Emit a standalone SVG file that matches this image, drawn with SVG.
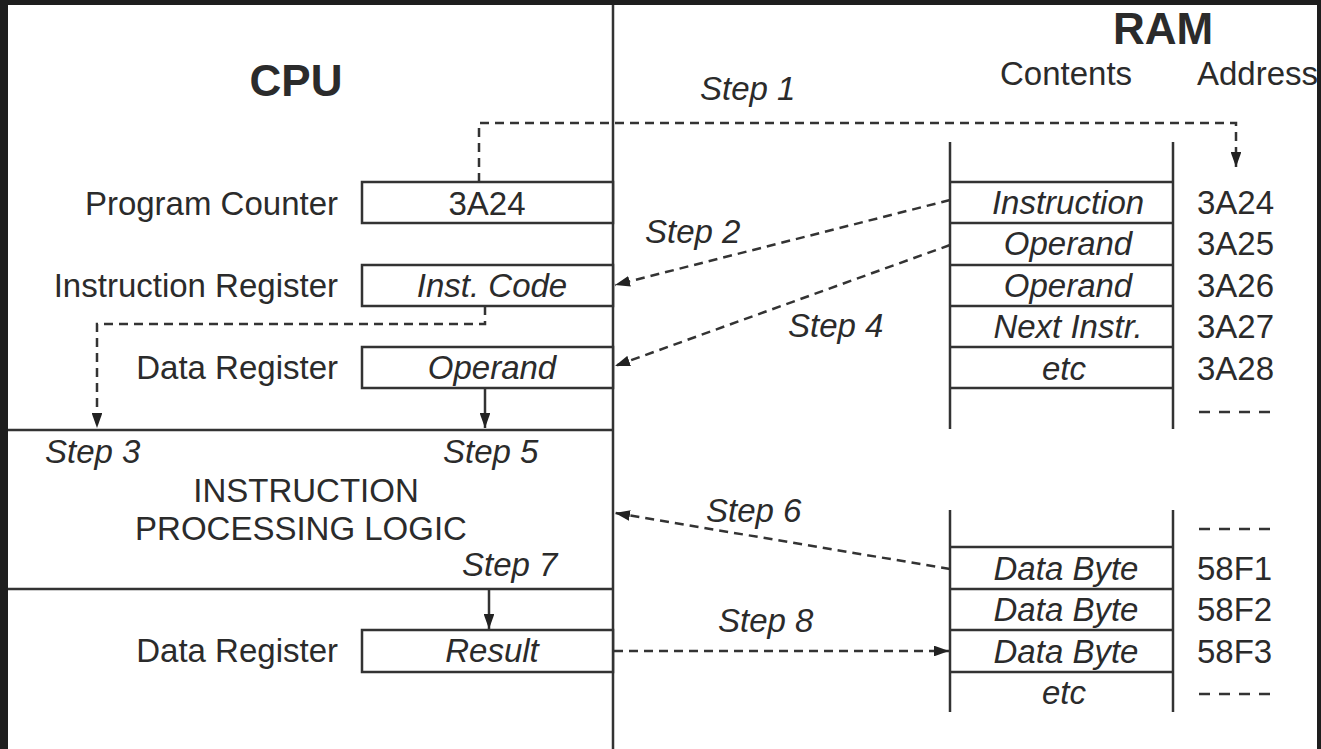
<svg xmlns="http://www.w3.org/2000/svg" width="1321" height="749" viewBox="0 0 1321 749">
<style>
text{font-family:"Liberation Sans",Arial,sans-serif;fill:#2b2b2b;font-size:33px}
.b{font-weight:bold;font-size:44px}
.i{font-style:italic}
.r{text-anchor:end}
.m{text-anchor:middle}
.ln{stroke:#333;stroke-width:2.5;fill:none}
.box{stroke:#333;stroke-width:2.5;fill:#fff}
.d{stroke:#333;stroke-width:2.5;fill:none;stroke-dasharray:9 6}
.dd{stroke:#333;stroke-width:2.5;fill:none;stroke-dasharray:11 9}
.sd{stroke:#333;stroke-width:2.5;fill:none}
</style>
<defs>
<marker id="ah" viewBox="0 0 14 10" refX="14" refY="5" markerWidth="6" markerHeight="4.3" orient="auto" markerUnits="strokeWidth">
<path d="M0,0 L14,5 L0,10 Z" fill="#222"/>
</marker>
</defs>
<rect x="0" y="0" width="1321" height="749" fill="#1e1e1e"/>
<rect x="8" y="5" width="1309" height="744" fill="#fff"/>

<g id="cpu">
<line class="ln" x1="613" y1="5" x2="613" y2="749"/>
<line class="ln" x1="8" y1="430" x2="613" y2="430"/>
<line class="ln" x1="8" y1="589" x2="613" y2="589"/>
<text class="b m" x="296" y="96">CPU</text>
</g>

<g id="program-counter">
<text class="r" x="338" y="215">Program Counter</text>
<rect class="box" x="362" y="182" width="251" height="41"/>
<text class="m" x="487" y="215">3A24</text>
</g>

<g id="instruction-register">
<text class="r" x="338" y="297">Instruction Register</text>
<rect class="box" x="362" y="265" width="251" height="41"/>
<text class="m i" x="492" y="297">Inst. Code</text>
</g>

<g id="data-register-1">
<text class="r" x="338" y="379">Data Register</text>
<rect class="box" x="362" y="347" width="251" height="41"/>
<text class="m i" x="492" y="379">Operand</text>
</g>

<g id="processing-logic">
<text class="m" x="306" y="502">INSTRUCTION</text>
<text class="m" x="301" y="540">PROCESSING LOGIC</text>
</g>

<g id="data-register-2">
<text class="r" x="338" y="662">Data Register</text>
<rect class="box" x="362" y="630" width="251" height="42"/>
<text class="m i" x="492" y="662">Result</text>
</g>

<g id="ram-header">
<text class="b m" x="1163" y="44">RAM</text>
<text x="1000" y="85">Contents</text>
<text x="1197" y="85">Address</text>
</g>

<g id="ram-upper">
<line class="ln" x1="950" y1="142" x2="950" y2="429"/>
<line class="ln" x1="1173" y1="142" x2="1173" y2="429"/>
<line class="ln" x1="950" y1="182" x2="1173" y2="182"/>
<line class="ln" x1="950" y1="223" x2="1173" y2="223"/>
<line class="ln" x1="950" y1="265" x2="1173" y2="265"/>
<line class="ln" x1="950" y1="306" x2="1173" y2="306"/>
<line class="ln" x1="950" y1="347" x2="1173" y2="347"/>
<line class="ln" x1="950" y1="388" x2="1173" y2="388"/>
<text class="m i" x="1068" y="214">Instruction</text>
<text class="m i" x="1068" y="255">Operand</text>
<text class="m i" x="1068" y="297">Operand</text>
<text class="m i" x="1068" y="338">Next Instr.</text>
<text class="m i" x="1064" y="380">etc</text>
<text x="1197" y="214">3A24</text>
<text x="1197" y="255">3A25</text>
<text x="1197" y="297">3A26</text>
<text x="1197" y="338">3A27</text>
<text x="1197" y="380">3A28</text>
<line class="dd" x1="1199" y1="412" x2="1270" y2="412"/>
</g>

<g id="ram-lower">
<line class="ln" x1="950" y1="510" x2="950" y2="712"/>
<line class="ln" x1="1173" y1="510" x2="1173" y2="712"/>
<line class="ln" x1="950" y1="547" x2="1173" y2="547"/>
<line class="ln" x1="950" y1="589" x2="1173" y2="589"/>
<line class="ln" x1="950" y1="630" x2="1173" y2="630"/>
<line class="ln" x1="950" y1="672" x2="1173" y2="672"/>
<text class="m i" x="1066" y="580">Data Byte</text>
<text class="m i" x="1066" y="621">Data Byte</text>
<text class="m i" x="1066" y="663">Data Byte</text>
<text class="m i" x="1064" y="704">etc</text>
<line class="dd" x1="1199" y1="529" x2="1272" y2="529"/>
<text x="1197" y="580">58F1</text>
<text x="1197" y="621">58F2</text>
<text x="1197" y="663">58F3</text>
<line class="dd" x1="1199" y1="694" x2="1272" y2="694"/>
</g>

<g id="connectors">
<path class="d" d="M479,182 V123 H1236 V167" marker-end="url(#ah)"/>
<path class="d" d="M950,200 L615,285" marker-end="url(#ah)"/>
<path class="d" d="M485,306 V324 H97 V428" marker-end="url(#ah)"/>
<path class="d" d="M950,245 L615,366" marker-end="url(#ah)"/>
<path class="sd" d="M485,388 V428" marker-end="url(#ah)"/>
<path class="d" d="M950,569 L615,513" marker-end="url(#ah)"/>
<path class="sd" d="M489,589 V629" marker-end="url(#ah)"/>
<path class="d" d="M614,651 H949" marker-end="url(#ah)"/>
<text class="i" x="700" y="100">Step 1</text>
<text class="i" x="645" y="243">Step 2</text>
<text class="i" x="45" y="463">Step 3</text>
<text class="i" x="788" y="337">Step 4</text>
<text class="i" x="443" y="463">Step 5</text>
<text class="i" x="706" y="522">Step 6</text>
<text class="i" x="462" y="576">Step 7</text>
<text class="i" x="718" y="632">Step 8</text>
</g>
</svg>
